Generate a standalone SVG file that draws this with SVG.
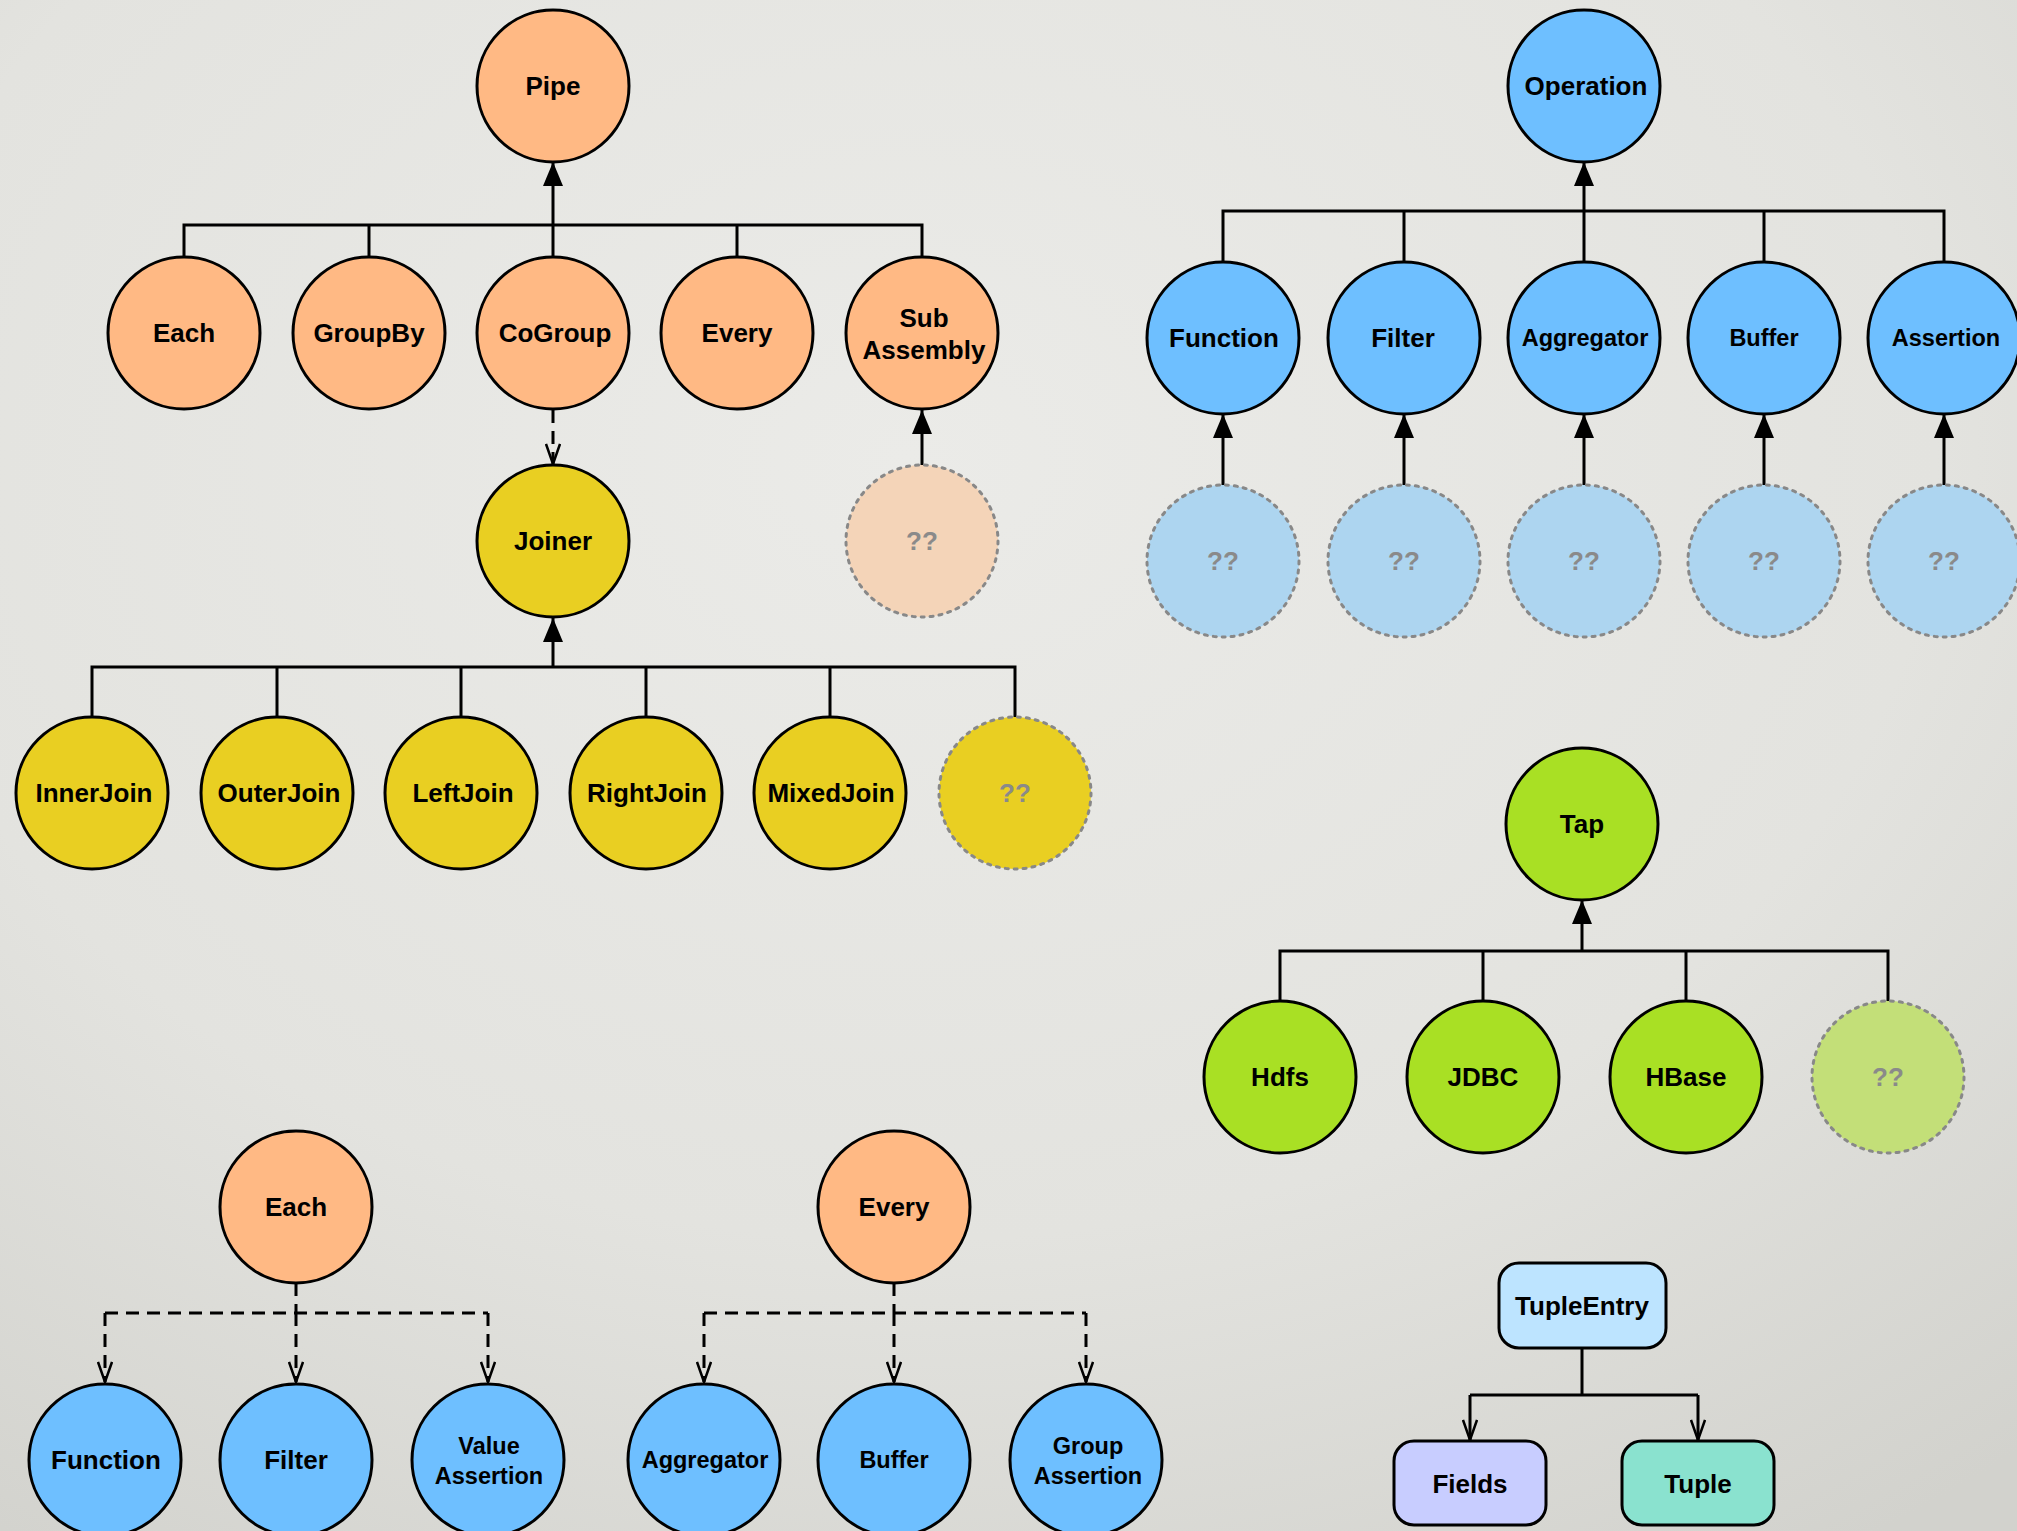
<svg xmlns="http://www.w3.org/2000/svg" width="2017" height="1531" viewBox="0 0 2017 1531">
  <defs>
    <radialGradient id="bg" cx="0.45" cy="0.3" r="0.85">
      <stop offset="0" stop-color="#ebebe8"/>
      <stop offset="0.6" stop-color="#e3e3df"/>
      <stop offset="1" stop-color="#d2d2cd"/>
    </radialGradient>
    <marker id="head" viewBox="0 0 24 20" refX="24" refY="10" markerWidth="24" markerHeight="20" markerUnits="userSpaceOnUse" orient="auto">
      <path d="M0,0 L24,10 L0,20 Z" fill="#000"/>
    </marker>
    <marker id="open" viewBox="0 0 22 16" refX="21" refY="8" markerWidth="22" markerHeight="16" markerUnits="userSpaceOnUse" orient="auto">
      <path d="M1,1 L21,8 L1,15" fill="none" stroke="#000" stroke-width="2.5"/>
    </marker>
    <style>
      .n { stroke: #000; stroke-width: 3; }
      .ghost { stroke: #888; stroke-width: 3; stroke-dasharray: 3 6; stroke-linecap: round; }
      .pipe { fill: #ffb984; }
      .op { fill: #6ebfff; }
      .join { fill: #e9cf22; }
      .tap { fill: #a9e024; }
      .pipe-g { fill: #f4d4b8; }
      .op-g { fill: #add5f0; }
      .tap-g { fill: #c3df78; }
      text { font-family: "Liberation Sans", Arial, Helvetica, sans-serif; font-weight: bold; font-size: 26px; text-anchor: middle; fill: #000; }
      text.s { font-size: 23.5px; }
      text.q { fill: #8a8a8a; }
      .c { fill: none; stroke: #000; stroke-width: 3; }
      .d { fill: none; stroke: #000; stroke-width: 3; stroke-dasharray: 13 8; }
    </style>
  </defs>

  <rect width="2017" height="1531" fill="url(#bg)"/>

  <!-- connectors -->
  <g id="connectors">
    <!-- Pipe hierarchy -->
    <path class="c" d="M184,257 V225 H922 V257 M369,225 V257 M737,225 V257"/>
    <path class="c" d="M553,257 V162" marker-end="url(#head)"/>
    <path class="d" d="M553,410 V464" marker-end="url(#open)"/>
    <path class="c" d="M922,465 V410" marker-end="url(#head)"/>
    <!-- Joiner hierarchy -->
    <path class="c" d="M92,717 V667 H1015 V717 M277,667 V717 M461,667 V717 M646,667 V717 M830,667 V717"/>
    <path class="c" d="M553,667 V618" marker-end="url(#head)"/>
    <!-- Operation hierarchy -->
    <path class="c" d="M1223,262 V211 H1944 V262 M1404,211 V262 M1764,211 V262"/>
    <path class="c" d="M1584,262 V162" marker-end="url(#head)"/>
    <path class="c" d="M1223,485 V414" marker-end="url(#head)"/>
    <path class="c" d="M1404,485 V414" marker-end="url(#head)"/>
    <path class="c" d="M1584,485 V414" marker-end="url(#head)"/>
    <path class="c" d="M1764,485 V414" marker-end="url(#head)"/>
    <path class="c" d="M1944,485 V414" marker-end="url(#head)"/>
    <!-- Tap hierarchy -->
    <path class="c" d="M1280,1001 V951 H1888 V1001 M1483,951 V1001 M1686,951 V1001"/>
    <path class="c" d="M1582,951 V900" marker-end="url(#head)"/>
    <!-- Each / Every operations -->
    <path class="d" d="M296,1283 V1313 M105,1313 H488"/>
    <path class="d" d="M105,1313 V1382" marker-end="url(#open)"/>
    <path class="d" d="M296,1313 V1382" marker-end="url(#open)"/>
    <path class="d" d="M488,1313 V1382" marker-end="url(#open)"/>
    <path class="d" d="M894,1283 V1313 M704,1313 H1086"/>
    <path class="d" d="M704,1313 V1382" marker-end="url(#open)"/>
    <path class="d" d="M894,1313 V1382" marker-end="url(#open)"/>
    <path class="d" d="M1086,1313 V1382" marker-end="url(#open)"/>
    <!-- TupleEntry -->
    <path class="c" d="M1582,1348 V1395 M1470,1395 H1698"/>
    <path class="c" d="M1470,1395 V1440" marker-end="url(#open)"/>
    <path class="c" d="M1698,1395 V1440" marker-end="url(#open)"/>
  </g>

  <!-- Pipe hierarchy -->
  <g id="pipe"><circle class="n pipe" cx="553" cy="86" r="76"/><text x="553" y="95">Pipe</text></g>
  <g id="each"><circle class="n pipe" cx="184" cy="333" r="76"/><text x="184" y="342">Each</text></g>
  <g id="groupby"><circle class="n pipe" cx="369" cy="333" r="76"/><text x="369" y="342">GroupBy</text></g>
  <g id="cogroup"><circle class="n pipe" cx="553" cy="333" r="76"/><text x="555" y="342">CoGroup</text></g>
  <g id="every"><circle class="n pipe" cx="737" cy="333" r="76"/><text x="737" y="342">Every</text></g>
  <g id="subassembly"><circle class="n pipe" cx="922" cy="333" r="76"/><text x="924" y="327">Sub</text><text x="924" y="359">Assembly</text></g>
  <g id="subassembly-unknown"><circle class="ghost pipe-g" cx="922" cy="541" r="76"/><text class="q" x="922" y="550">??</text></g>
  <g id="joiner"><circle class="n join" cx="553" cy="541" r="76"/><text x="553" y="550">Joiner</text></g>

  <!-- Joiner hierarchy -->
  <g id="innerjoin"><circle class="n join" cx="92" cy="793" r="76"/><text x="94" y="802">InnerJoin</text></g>
  <g id="outerjoin"><circle class="n join" cx="277" cy="793" r="76"/><text x="279" y="802">OuterJoin</text></g>
  <g id="leftjoin"><circle class="n join" cx="461" cy="793" r="76"/><text x="463" y="802">LeftJoin</text></g>
  <g id="rightjoin"><circle class="n join" cx="646" cy="793" r="76"/><text x="647" y="802">RightJoin</text></g>
  <g id="mixedjoin"><circle class="n join" cx="830" cy="793" r="76"/><text x="831" y="802">MixedJoin</text></g>
  <g id="join-unknown"><circle class="ghost join" cx="1015" cy="793" r="76"/><text class="q" x="1015" y="802">??</text></g>

  <!-- Operation hierarchy -->
  <g id="operation"><circle class="n op" cx="1584" cy="86" r="76"/><text x="1586" y="95">Operation</text></g>
  <g id="function"><circle class="n op" cx="1223" cy="338" r="76"/><text x="1224" y="347">Function</text></g>
  <g id="filter"><circle class="n op" cx="1404" cy="338" r="76"/><text x="1403" y="347">Filter</text></g>
  <g id="aggregator"><circle class="n op" cx="1584" cy="338" r="76"/><text class="s" x="1585" y="346">Aggregator</text></g>
  <g id="buffer"><circle class="n op" cx="1764" cy="338" r="76"/><text class="s" x="1764" y="346">Buffer</text></g>
  <g id="assertion"><circle class="n op" cx="1944" cy="338" r="76"/><text class="s" x="1946" y="346">Assertion</text></g>
  <g id="function-unknown"><circle class="ghost op-g" cx="1223" cy="561" r="76"/><text class="q" x="1223" y="570">??</text></g>
  <g id="filter-unknown"><circle class="ghost op-g" cx="1404" cy="561" r="76"/><text class="q" x="1404" y="570">??</text></g>
  <g id="aggregator-unknown"><circle class="ghost op-g" cx="1584" cy="561" r="76"/><text class="q" x="1584" y="570">??</text></g>
  <g id="buffer-unknown"><circle class="ghost op-g" cx="1764" cy="561" r="76"/><text class="q" x="1764" y="570">??</text></g>
  <g id="assertion-unknown"><circle class="ghost op-g" cx="1944" cy="561" r="76"/><text class="q" x="1944" y="570">??</text></g>

  <!-- Tap hierarchy -->
  <g id="tap"><circle class="n tap" cx="1582" cy="824" r="76"/><text x="1582" y="833">Tap</text></g>
  <g id="hdfs"><circle class="n tap" cx="1280" cy="1077" r="76"/><text x="1280" y="1086">Hdfs</text></g>
  <g id="jdbc"><circle class="n tap" cx="1483" cy="1077" r="76"/><text x="1483" y="1086">JDBC</text></g>
  <g id="hbase"><circle class="n tap" cx="1686" cy="1077" r="76"/><text x="1686" y="1086">HBase</text></g>
  <g id="tap-unknown"><circle class="ghost tap-g" cx="1888" cy="1077" r="76"/><text class="q" x="1888" y="1086">??</text></g>

  <!-- Each operations -->
  <g id="each-2"><circle class="n pipe" cx="296" cy="1207" r="76"/><text x="296" y="1216">Each</text></g>
  <g id="each-function"><circle class="n op" cx="105" cy="1460" r="76"/><text x="106" y="1469">Function</text></g>
  <g id="each-filter"><circle class="n op" cx="296" cy="1460" r="76"/><text x="296" y="1469">Filter</text></g>
  <g id="value-assertion"><circle class="n op" cx="488" cy="1460" r="76"/><text class="s" x="489" y="1454">Value</text><text class="s" x="489" y="1484">Assertion</text></g>

  <!-- Every operations -->
  <g id="every-2"><circle class="n pipe" cx="894" cy="1207" r="76"/><text x="894" y="1216">Every</text></g>
  <g id="every-aggregator"><circle class="n op" cx="704" cy="1460" r="76"/><text class="s" x="705" y="1468">Aggregator</text></g>
  <g id="every-buffer"><circle class="n op" cx="894" cy="1460" r="76"/><text class="s" x="894" y="1468">Buffer</text></g>
  <g id="group-assertion"><circle class="n op" cx="1086" cy="1460" r="76"/><text class="s" x="1088" y="1454">Group</text><text class="s" x="1088" y="1484">Assertion</text></g>

  <!-- Tuple classes -->
  <g id="tupleentry"><rect class="n" x="1499" y="1263" width="167" height="85" rx="20" fill="#bde4ff"/><text x="1582" y="1315">TupleEntry</text></g>
  <g id="fields"><rect class="n" x="1394" y="1441" width="152" height="84" rx="20" fill="#c8cdff"/><text x="1470" y="1493">Fields</text></g>
  <g id="tuple"><rect class="n" x="1622" y="1441" width="152" height="84" rx="20" fill="#8ae2cf"/><text x="1698" y="1493">Tuple</text></g>
</svg>
